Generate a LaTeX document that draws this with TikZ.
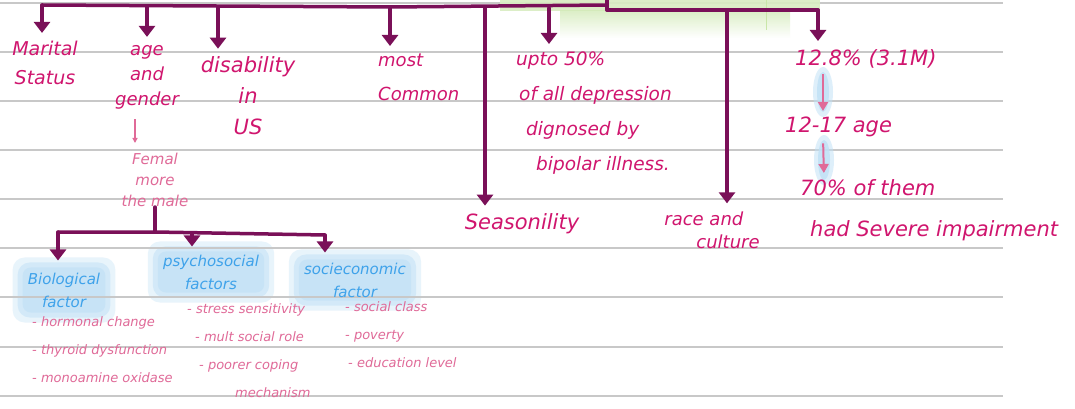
\documentclass[tikz,border=0pt]{standalone}
\usepackage{fontspec}
\setmainfont{DejaVu Sans}
\usetikzlibrary{arrows.meta,backgrounds}
\definecolor{barc}{HTML}{7A1058}
\definecolor{ink}{HTML}{D0156E}
\definecolor{lpink}{HTML}{E06A98}
\definecolor{sky}{HTML}{3EA2EA}
\definecolor{glowc}{HTML}{BFE0F6}
\definecolor{rulec}{HTML}{C8C8C8}
\definecolor{grn}{HTML}{C9E6A8}
\tikzset{
  conn/.style={draw=barc, line width=3.5pt, line cap=round, line join=round},
  arr/.style={conn, -{Triangle[width=16pt,length=11pt]}, shorten >=8pt},
  parr/.style={draw=lpink, line width=2pt, -{Triangle[width=10pt,length=9pt]}, shorten <=6pt, shorten >=6pt},
  main/.style={text=ink, font=\itshape\fontsize{19}{27}\selectfont, align=center, inner sep=0pt},
  sub/.style={text=lpink, font=\itshape\fontsize{13}{28}\selectfont, align=left, inner sep=0pt, anchor=north west},
  head/.style={text=sky, font=\itshape\fontsize{15}{23}\selectfont, align=center, inner xsep=8pt, inner ysep=6pt},
  glowbox/.style={fill=glowc, rounded corners=12pt},
}
\begin{document}
\begin{tikzpicture}[x=1pt,y=-1pt]
\useasboundingbox (0,0) rectangle (1075,409);
% ruled lines
\foreach \yy in {3,52,101,150,199,248,297,347,396}
  \draw[rulec, line width=1.5pt] (0,\yy) -- (1003,\yy);
% green highlight
\fill[grn!70, opacity=0.9] (500,0) rectangle (820,11);
\shade[top color=grn!80, bottom color=white, opacity=0.8] (560,11) rectangle (790,38);
\draw[grn, line width=1pt] (766,0) -- (766,30);
% glows behind small arrows
\fill[glowc, opacity=0.5] (823,92) ellipse (10pt and 25pt);
\fill[glowc, opacity=0.8] (823,92) ellipse (6pt and 20pt);
\fill[glowc, opacity=0.5] (824,160) ellipse (10pt and 25pt);
\fill[glowc, opacity=0.8] (824,160) ellipse (6pt and 20pt);

% top-level texts
\node[main, font=\itshape\fontsize{19}{29}\selectfont] (ms) at (45,63) {Marital\\Status};
\node[main, font=\itshape\fontsize{18}{25}\selectfont] (ag) at (147,77) {age\\and\\gender};
\node[main, text=lpink, font=\itshape\fontsize{15}{21}\selectfont] (fm) at (155,180) {Femal\\more\\the male};
\node[main, font=\itshape\fontsize{21}{31}\selectfont] (dis) at (248,96) {disability\\in\\US};
\node[main, align=left, anchor=north west, font=\itshape\fontsize{18}{34}\selectfont] (mc) at (378,54) {most\\Common};
\node[main, align=left, anchor=north west, font=\itshape\fontsize{18.5}{35}\selectfont] (up) at (516,52) {upto 50\%\\\hspace*{3pt}of all depression\\\hspace*{10pt}dignosed by\\\hspace*{20pt}bipolar illness.};
\node[main, font=\itshape\fontsize{21}{27}\selectfont] (sea) at (522,224) {Seasonility};
\node[main, align=left, font=\itshape\fontsize{18}{23}\selectfont] (race) at (712,230) {race and\\\hspace*{32pt}culture};
\node[main, anchor=north west, font=\itshape\fontsize{21}{26}\selectfont] (n1) at (795,49) {12.8\% (3.1M)};
\node[main, anchor=north west, font=\itshape\fontsize{21}{26}\selectfont] (n2) at (785,117) {12-17 age};
\node[main, anchor=north west, align=left, font=\itshape\fontsize{21}{41}\selectfont] (n3) at (800,179) {70\% of them\\\hspace*{10pt}had Severe impairment};

% top bar and arrows
\coordinate (top) at (607,0);
\coordinate (jl) at (607,5);
\coordinate (jr) at (607,10);
\coordinate (bL) at (42,5);
\coordinate (bR) at (818,10);
\coordinate (d2) at (147,6);
\coordinate (d3) at (218,7);
\coordinate (d4) at (390,7);
\coordinate (d5) at (485,7);
\coordinate (d6) at (549,8);
\coordinate (d7) at (727,10);
\draw[conn] (top) -- (jr);
\draw[conn] (jl) -- (d4) -- (bL);
\draw[conn] (jr) -- (bR);
\draw[arr] (bL) -- (bL |- ms.north);
\draw[arr] (d2) -- (d2 |- ag.north);
\draw[arr] (d3) -- (d3 |- dis.north);
\draw[arr] (d4) -- (d4 |- mc.north);
\draw[arr] (d5) -- (d5 |- sea.north);
\draw[arr] (d6) -- (d6 |- up.north);
\draw[arr] (d7) -- (d7 |- race.north);
\draw[arr] (bR) -- (bR |- n1.north);
% small pink arrows
\draw[parr, line width=1.2pt, -{Triangle[width=5pt,length=5pt]}, shorten <=10pt, shorten >=10pt] ([xshift=-12pt]ag.south) -- ([xshift=-20pt]fm.north);
\draw[parr] ([xshift=28pt]n1.south west) -- ([xshift=38pt]n2.north west);
\draw[parr] ([xshift=38pt]n2.south west) -- ([xshift=24pt]n3.north west);

% bottom tree
\node[head, inner ysep=8pt] (bio) at (64,290) {Biological\\factor};
\node[head] (psy) at (211,272) {psychosocial\\factors};
\node[head] (soc) at (355,280) {socieconomic\\factor};
\begin{scope}[on background layer]
\fill[white] (0,0) rectangle (1075,409);
\foreach \n in {bio,psy,soc}{
  \fill[glowbox, opacity=0.35] ([xshift=-7pt,yshift=-7pt]\n.south west) rectangle ([xshift=7pt,yshift=7pt]\n.north east);
  \fill[glowbox, opacity=0.5] ([xshift=-2pt,yshift=-2pt]\n.south west) rectangle ([xshift=2pt,yshift=2pt]\n.north east);
  \fill[glowbox, opacity=0.6, rounded corners=8pt] ([xshift=3pt,yshift=3pt]\n.south west) rectangle ([xshift=-3pt,yshift=-3pt]\n.north east);
}
\end{scope}
\coordinate (fb) at (155,232);
\coordinate (bl) at (58,232);
\coordinate (bm) at (192,233);
\coordinate (br) at (325,235);
\draw[conn] (fm.south) -- (fb);
\draw[conn] (bl) -- (fb) -- (br);
\draw[arr, shorten >=4pt] (bl) -- (bl |- bio.north);
\draw[arr, shorten >=2pt] (bm) -- (bm |- psy.north);
\draw[arr, shorten >=4pt] (br) -- (br |- soc.north);

\node[sub] (bls) at (32,316) {- hormonal change\\- thyroid dysfunction\\- monoamine oxidase};
\node[sub] (pls) at (187,303) {- stress sensitivity\\\hspace*{8pt}- mult social role\\\hspace*{12pt}- poorer coping\\\hspace*{48pt}mechanism};
\node[sub] (sls) at (345,301) {- social class\\- poverty\\\hspace*{3pt}- education level};
\end{tikzpicture}
\end{document}
